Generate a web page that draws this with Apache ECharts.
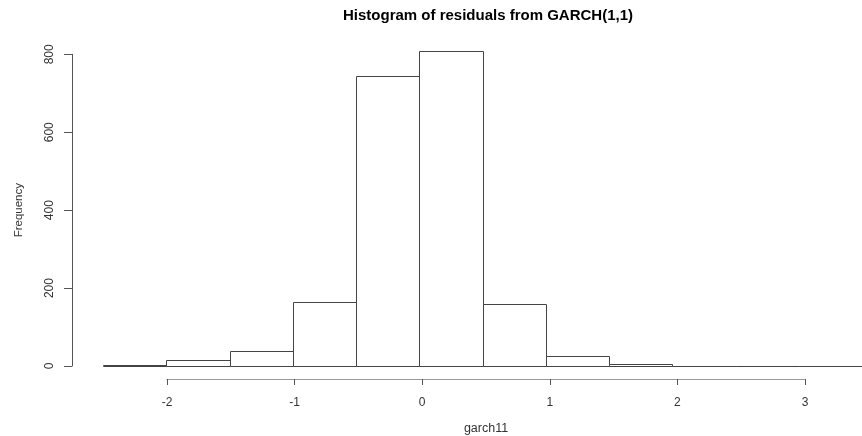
<!DOCTYPE html>
<html>
<head>
<meta charset="utf-8">
<title>Histogram of residuals from GARCH(1,1)</title>
<script src="https://cdn.jsdelivr.net/npm/echarts@6/dist/echarts.min.js"></script>
<style>
  html, body { margin: 0; padding: 0; background: #fff; }
  #chart { width: 862px; height: 436px; }
</style>
</head>
<body>
<div id="chart"></div>
<script>
// histogram bins (residual value) and their counts
const binLeft = [-2.5, -2, -1.5, -1, -0.5, 0, 0.5, 1, 1.5, 2, 2.5, 3];
const binRight = [-2, -1.5, -1, -0.5, 0, 0.5, 1, 1.5, 2, 2.5, 3, 3.5];
const counts = [2, 15, 38, 164, 744, 809, 158, 26, 5, 1, 0, 1];

const xTicks = [-2, -1, 0, 1, 2, 3];
const yTicks = [0, 200, 400, 600, 800];

const font = "Liberation Sans, Arial, sans-serif";

const chart = echarts.init(document.getElementById("chart"));

const bins = binLeft.map((x0, i) => [x0, binRight[i], counts[i]]);

chart.setOption({
  animation: false,
  title: {
    text: "Histogram of residuals from GARCH(1,1)",
    left: 483,
    top: 3,
    textAlign: "center",
    textStyle: { fontFamily: font, fontSize: 15, fontWeight: "bold", color: "#000" },
  },
  grid: [
    // plot region for the bars
    { left: 103, top: 34.8, width: 766, height: 331.2 },
    // x axis (drawn below the plot, like R)
    { left: 167, top: 300, width: 638, height: 80 },
    // y axis (drawn left of the plot)
    { left: 72, top: 54.3, width: 10, height: 311.7 },
  ],
  xAxis: [
    {
      gridIndex: 0, type: "value",
      min: binLeft[0], max: binRight[binRight.length - 1],
      show: false,
    },
    {
      gridIndex: 1, type: "value",
      min: xTicks[0], max: xTicks[xTicks.length - 1], interval: 1,
      name: "garch11", nameLocation: "middle", nameGap: 43,
      nameTextStyle: { fontFamily: font, fontSize: 12.5, color: "#333" },
      axisLine: { lineStyle: { color: "#999", width: 1 } },
      axisTick: { length: 6, lineStyle: { color: "#555" } },
      axisLabel: { margin: 18, fontFamily: font, fontSize: 12, color: "#333" },
      splitLine: { show: false },
    },
    { gridIndex: 2, type: "value", show: false },
  ],
  yAxis: [
    { gridIndex: 0, type: "value", min: 0, max: 850, show: false },
    { gridIndex: 1, type: "value", show: false },
    {
      gridIndex: 2, type: "value",
      min: yTicks[0], max: yTicks[yTicks.length - 1], interval: 200,
      name: "Frequency", nameLocation: "middle", nameGap: 47,
      nameTextStyle: { fontFamily: font, fontSize: 11.5, color: "#333" },
      axisLine: { show: true, lineStyle: { color: "#555", width: 1 } },
      axisTick: { show: true, length: 8, lineStyle: { color: "#555" } },
      axisLabel: { rotate: 90, margin: 16, fontFamily: font, fontSize: 12, color: "#333" },
      splitLine: { show: false },
    },
  ],
  series: [
    {
      type: "custom",
      xAxisIndex: 0,
      yAxisIndex: 0,
      data: bins,
      clip: false,
      renderItem: function (params, api) {
        const p0 = api.coord([api.value(0), api.value(2)]);
        const p1 = api.coord([api.value(1), 0]);
        return {
          type: "rect",
          shape: {
            x: Math.round(p0[0]) + 0.5,
            y: Math.round(p0[1]) + 0.5,
            width: Math.round(p1[0]) - Math.round(p0[0]),
            height: Math.round(p1[1]) - Math.round(p0[1]),
          },
          style: { fill: "#fff", stroke: "#444", lineWidth: 1 },
        };
      },
    },
  ],
});
</script>
</body>
</html>
